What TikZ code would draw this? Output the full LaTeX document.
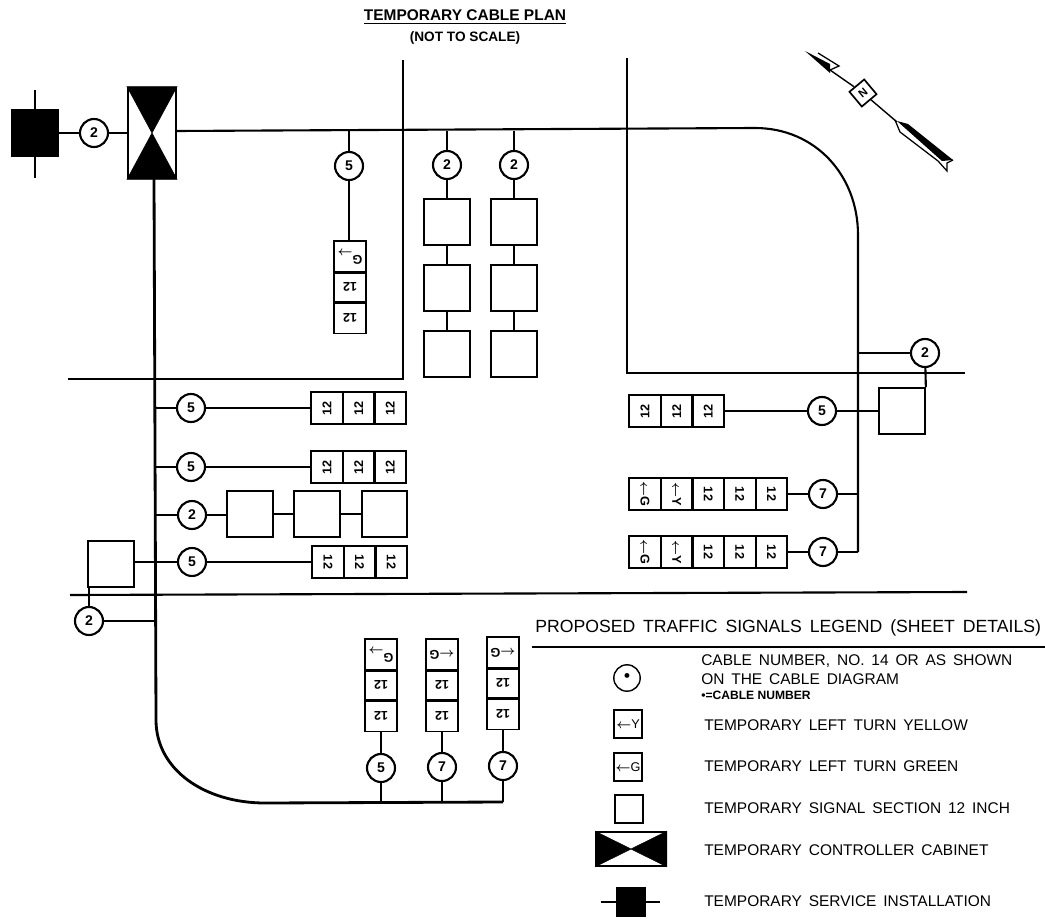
\documentclass[tikz,border=0pt]{standalone}
\usepackage{fontspec}
\usepackage{graphicx}
\setmainfont{Liberation Sans}
\newfontfamily\legenda[WordSpace=1.6]{Liberation Sans}
\usepackage{tikz}
\usetikzlibrary{arrows.meta,calc}
\tikzset{
>=Stealth,
node distance=0.79cm,
cavo/.style={line width=1.5pt},
dorsale/.style={line width=2pt},
strada/.style={line width=1.5pt},
cerchio/.style={circle,draw,line width=1.5pt,fill=white,inner sep=0pt,minimum size=0.7cm,font=\bfseries\normalsize},
cella/.style={rectangle,draw,line width=1.3pt,inner sep=0pt,minimum size=0.78cm,font=\bfseries\small},
sezione/.style={rectangle,draw,line width=1.5pt,inner sep=0pt,minimum size=1.14cm},
piccola/.style={rectangle,draw,line width=1.2pt,inner sep=0pt,minimum size=0.7cm,font=\small},
scritta/.style={anchor=west,inner sep=0pt,font=\legenda\fontsize{11}{13}\selectfont}}

% rotated contents of the small cells
\newcommand{\dodici}[1]{\rotatebox{#1}{12}}
\newcommand{\svolta}[2]{\rotatebox{#1}{{\boldmath$\leftarrow$}#2}}

\begin{document}
\begin{tikzpicture}[x=0.025cm,y=-0.025cm]
      \useasboundingbox (0,0) rectangle (1045,919);

      % title
      \node (titolo) [inner sep=0pt,font=\bfseries\fontsize{11}{13}\selectfont] at (465,17) {\underline{TEMPORARY CABLE PLAN}};
      \node (sotto) [inner sep=0pt,font=\bfseries\fontsize{9.7}{12}\selectfont] at (465,38) {(NOT TO SCALE)};

      % roads
      \coordinate (r1) at (403,60);
      \coordinate (r2) at (403,379);
      \coordinate (r3) at (68,379);
      \coordinate (r4) at (627,58);
      \coordinate (r5) at (627,373);
      \coordinate (r6) at (965,373);
      \coordinate (r7) at (70,595);
      \coordinate (r8) at (967,592);
      \draw[strada] (r1) -- (r2) -- (r3);
      \draw[strada] (r4) -- (r5) -- (r6);
      \draw[strada] (r7) -- (r8);

      % cabinet and service
      \node (serv) [rectangle,draw,fill=black,minimum size=1.17cm] at (35,133) {};
      \coordinate (s1) at (35,90);
      \coordinate (s2) at (35,178);
      \node (c0) [cerchio] at (94,133) {2};
      \node (cab) [rectangle,draw,line width=1.5pt,minimum width=1.2cm,minimum height=2.27cm] at (152,133) {};
      \filldraw (cab.north west) -- (cab.north east) -- (cab.south west) -- (cab.south east) -- cycle;
      \path[cavo] (s1) edge (s2) (serv) edge (c0) (c0) edge (cab);

      % trunks
      \coordinate (a1) at (176,131);
      \coordinate (a2) at (755,128);
      \coordinate (a3) at (858,235);
      \coordinate (a4) at (858,552);
      \draw[cavo] (a1) -- (a2) .. controls (815,128) and (858,175) .. (a3) -- (a4);
      \coordinate (b1) at (154,178);
      \coordinate (b2) at (156,720);
      \coordinate (b3) at (265,803);
      \coordinate (b4) at (503,802);
      \draw[dorsale] (b1) -- (b2) .. controls (156,770) and (205,803) .. (b3) -- (b4);

      % top signals
      \coordinate (t1) at (349,131);
      \coordinate (t2) at (447,131);
      \coordinate (t3) at (514,131);
      \node (c1) [cerchio] at (349,166) {5};
      \node (p1) [cella] at (350,257) {\svolta{0}{\rotatebox{180}{G}}};
      \node (p2) [cella,below of=p1,node distance=0.76cm] {\dodici{180}};
      \node (p3) [cella,below of=p2,node distance=0.76cm] {\dodici{180}};
      \path[cavo] (t1) edge (c1) (c1) edge (c1 |- p1.north);

      \node (c2) [cerchio] at (447,165) {2};
      \node (q1) [sezione] at (447,222) {};
      \node (q2) [sezione,below of=q1,node distance=1.65cm] {};
      \node (q3) [sezione,below of=q2,node distance=1.65cm] {};
      \path[cavo] (t2) edge (c2) (c2) edge (q1) (q1) edge (q2) (q2) edge (q3);

      \node (c3) [cerchio] at (514,165) {2};
      \node (w1) [sezione] at (514,222) {};
      \node (w2) [sezione,below of=w1,node distance=1.65cm] {};
      \node (w3) [sezione,below of=w2,node distance=1.65cm] {};
      \path[cavo] (t3) edge (c3) (c3) edge (w1) (w1) edge (w2) (w2) edge (w3);

      % left signals
      \coordinate (l1) at (155,408);
      \node (c4) [cerchio] at (191,408) {5};
      \node (e1) [cella] at (327,408) {\dodici{90}};
      \node (e2) [cella,right of=e1] {\dodici{90}};
      \node (e3) [cella,right of=e2] {\dodici{90}};
      \path[cavo] (l1) edge (c4) (c4) edge (e1);

      \coordinate (l2) at (155,467);
      \node (c5) [cerchio] at (191,467) {5};
      \node (f1) [cella] at (327,467) {\dodici{90}};
      \node (f2) [cella,right of=f1] {\dodici{90}};
      \node (f3) [cella,right of=f2] {\dodici{90}};
      \path[cavo] (l2) edge (c5) (c5) edge (f1);

      \coordinate (l3) at (155,515);
      \node (c6) [cerchio] at (192,515) {2};
      \node (g1) [sezione] at (250,514) {};
      \node (g2) [sezione,right of=g1,node distance=1.68cm] {};
      \node (g3) [sezione,right of=g2,node distance=1.68cm] {};
      \path[cavo] (l3) edge (c6) (c6) edge (c6 -| g1.west) (g1) edge (g2) (g2) edge (g3);

      \node (c7) [cerchio] at (192,562) {5};
      \node (h1) [cella] at (328,562) {\dodici{-90}};
      \node (h2) [cella,right of=h1] {\dodici{-90}};
      \node (h3) [cella,right of=h2] {\dodici{-90}};
      \node (g4) [sezione] at (111,564) {};
      \path[cavo] (c7 -| g4.east) edge (c7) (c7) edge (h1);

      \coordinate (l4) at (156,621);
      \node (c8) [cerchio] at (89,621) {2};
      \path[cavo] (c8) edge (l4) (c8) edge (c8 |- g4.south);

      % right signals
      \coordinate (d1) at (858,353);
      \node (c9) [cerchio] at (925,353) {2};
      \node (k4) [sezione] at (902,411) {};
      \path[cavo] (d1) edge (c9) (c9) edge (k4.north east);

      \node (c10) [cerchio] at (822,411) {5};
      \node (k1) [cella] at (645,411) {\dodici{90}};
      \node (k2) [cella,right of=k1] {\dodici{90}};
      \node (k3) [cella,right of=k2] {\dodici{90}};
      \path[cavo] (k3) edge (c10) (c10) edge (k4);

      \coordinate (d2) at (858,494);
      \node (c11) [cerchio] at (823,494) {7};
      \node (m1) [cella] at (645,494) {\svolta{-90}{G}};
      \node (m2) [cella,right of=m1] {\svolta{-90}{Y}};
      \node (m3) [cella,right of=m2] {\dodici{-90}};
      \node (m4) [cella,right of=m3] {\dodici{-90}};
      \node (m5) [cella,right of=m4] {\dodici{-90}};
      \path[cavo] (m5) edge (c11) (c11) edge (d2);

      \node (c12) [cerchio] at (823,552) {7};
      \node (n1) [cella] at (645,552) {\svolta{-90}{G}};
      \node (n2) [cella,right of=n1] {\svolta{-90}{Y}};
      \node (n3) [cella,right of=n2] {\dodici{-90}};
      \node (n4) [cella,right of=n3] {\dodici{-90}};
      \node (n5) [cella,right of=n4] {\dodici{-90}};
      \path[cavo] (n5) edge (c12) (c12) edge (a4);

      % bottom signals
      \coordinate (u1) at (381,803);
      \coordinate (u2) at (442,803);
      \coordinate (u3) at (503,802);
      \node (c13) [cerchio] at (381,768) {5};
      \node (v1) [cella] at (381,655) {\svolta{0}{\rotatebox{180}{G}}};
      \node (v2) [cella,below of=v1,node distance=0.76cm] {\dodici{180}};
      \node (v3) [cella,below of=v2,node distance=0.76cm] {\dodici{180}};
      \path[cavo] (u1) edge (c13) (c13) edge (v3);

      \node (c14) [cerchio] at (442,767) {7};
      \node (x1) [cella] at (442,655) {\svolta{180}{G}};
      \node (x2) [cella,below of=x1,node distance=0.76cm] {\dodici{180}};
      \node (x3) [cella,below of=x2,node distance=0.76cm] {\dodici{180}};
      \path[cavo] (u2) edge (c14) (c14) edge (x3);

      \node (c15) [cerchio] at (503,766) {7};
      \node (y1) [cella] at (503,653) {\svolta{180}{G}};
      \node (y2) [cella,below of=y1,node distance=0.76cm] {\dodici{180}};
      \node (y3) [cella,below of=y2,node distance=0.76cm] {\dodici{180}};
      \path[cavo] (u3) edge (c15) (c15) edge (y3);

      % north arrow
      \coordinate (z1) at (830,70);
      \coordinate (z2) at (897,122);
      \node (nord) [rectangle,draw,line width=1.2pt,fill=white,inner sep=0pt,minimum size=0.48cm,rotate=-50,font=\bfseries\footnotesize] at (863,93) {\rotatebox{90}{N}};
      \path[cavo,line width=1pt] (z1) edge (nord) (nord) edge (z2);
      \fill (805,51) -- (830,64) -- (830,73) -- cycle;
      \draw[line width=0.9pt] (818,53) -- (839,66) -- (830,70);
      \fill (897,121) -- (908,124) -- (953,160) -- (942,161) -- cycle;
      \draw[line width=0.9pt] (895,120) -- (900,132) -- (938,161) -- (947,171) -- (947,163) -- (953,160);

      % legend
      \node (leg) [scritta,font=\legenda\fontsize{12.55}{15}\selectfont] at (535,628) {PROPOSED TRAFFIC SIGNALS LEGEND (SHEET DETAILS)};
      \coordinate (leg1) at (532,647);
      \coordinate (leg2) at (1045,647);
      \draw[cavo] (leg1) -- (leg2);

      \node (s0) [circle,draw,line width=1pt,inner sep=0pt,minimum size=0.66cm,font=\bfseries\large] at (627,678) {\textbullet};
      \node (s3) [piccola] at (628,724) {{\boldmath$\leftarrow$}Y};
      \node (s4) [piccola] at (628,767) {{\boldmath$\leftarrow$}G};
      \node (s5) [piccola] at (629,809) {};
      \node (s6) [rectangle,draw,line width=1pt,minimum width=1.75cm,minimum height=0.85cm] at (631,849) {};
      \filldraw (s6.north west) -- (s6.south west) -- (s6.north east) -- (s6.south east) -- cycle;
      \node (s7) [rectangle,draw,fill=black,minimum size=0.72cm] at (631,902) {};
      \coordinate (s8) at (601,902);
      \coordinate (s9) at (660,902);
      \path[cavo,line width=1pt] (s8) edge (s7) (s7) edge (s9);

      \node (t0) [scritta] at (701,661) {CABLE NUMBER, NO. 14 OR AS SHOWN};
      \node (t4) [scritta] at (701,679) {ON THE CABLE DIAGRAM};
      \node (t5) [scritta,font=\bfseries\fontsize{8.6}{10}\selectfont] at (701,695) {\textbullet=CABLE NUMBER};
      \node (t6) [scritta] at (704,725) {TEMPORARY LEFT TURN YELLOW};
      \node (t7) [scritta] at (704,766) {TEMPORARY LEFT TURN GREEN};
      \node (t8) [scritta] at (704,808) {TEMPORARY SIGNAL SECTION 12 INCH};
      \node (t9) [scritta] at (704,850) {TEMPORARY CONTROLLER CABINET};
      \node (t10) [scritta] at (704,901) {TEMPORARY SERVICE INSTALLATION};
\end{tikzpicture}
\end{document}
